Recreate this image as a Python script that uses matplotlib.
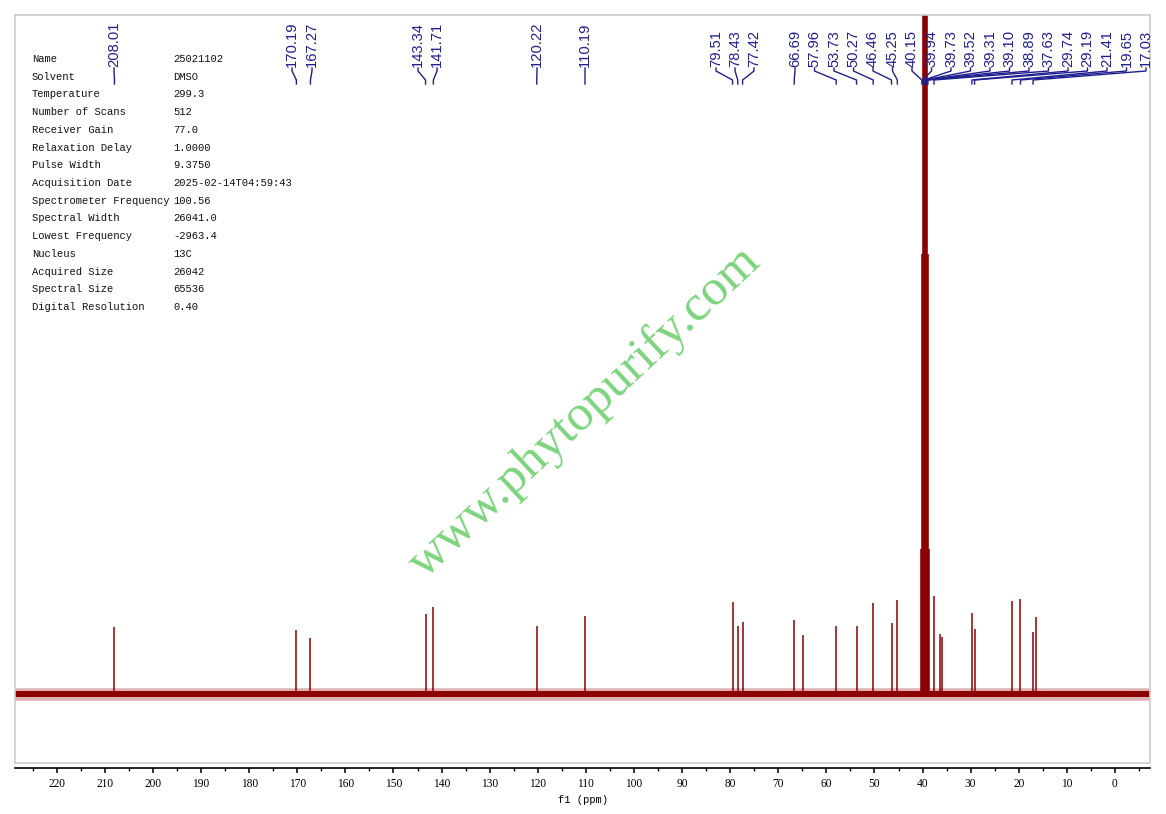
import matplotlib
matplotlib.use("Agg")
import matplotlib.pyplot as plt
import matplotlib.transforms as mtransforms
from matplotlib.ticker import MultipleLocator

W, H = 1166, 814

# 13C peaks: shift (ppm) and height (baseline = 0)
peak_ppm = [208.01, 170.19, 167.27, 143.34, 141.71, 120.22, 110.19,
            79.51, 78.43, 77.42, 66.69, 64.90, 57.96, 53.73, 50.27, 46.46, 45.25,
            37.63, 36.40, 35.90, 29.74, 29.19, 21.41, 19.65, 17.03, 16.47]
peak_height = [67, 64, 56, 80, 87, 68, 78,
               92, 68, 72, 74, 59, 68, 68, 91, 71, 94,
               98, 60, 57, 81, 65, 93, 95, 62, 77]

# DMSO-d6 septet
dmso_ppm = [40.15, 39.94, 39.73, 39.52, 39.31, 39.10, 38.89]
dmso_height = [145, 440, 880, 1030, 880, 440, 145]

# picked shifts shown on top
label_ppm = [208.01, 170.19, 167.27, 143.34, 141.71, 120.22, 110.19,
             79.51, 78.43, 77.42, 66.69, 57.96, 53.73, 50.27, 46.46, 45.25,
             40.15, 39.94, 39.73, 39.52, 39.31, 39.10, 38.89, 37.63,
             29.74, 29.19, 21.41, 19.65, 17.03]

param_names = ["Name", "Solvent", "Temperature", "Number of Scans", "Receiver Gain",
               "Relaxation Delay", "Pulse Width", "Acquisition Date",
               "Spectrometer Frequency", "Spectral Width", "Lowest Frequency",
               "Nucleus", "Acquired Size", "Spectral Size", "Digital Resolution"]
param_values = ["25021102", "DMSO", "299.3", "512", "77.0", "1.0000", "9.3750",
                "2025-02-14T04:59:43", "100.56", "26041.0", "-2963.4", "13C",
                "26042", "65536", "0.40"]

# layout (pixels in the 1166x814 picture)
label_px = [114, 292, 312, 418, 437, 537, 585, 716, 735, 754] + [795 + 19.5 * k for k in range(19)]
ax_left, ax_right, ax_top, ax_bottom = 15, 1150, 15, 763
red = "#8b0000"
navy = "#1f1f8f"

plt.rcParams["font.family"] = "Liberation Serif"

fig = plt.figure(figsize=(W / 100, H / 100), dpi=100)
ax = fig.add_axes([ax_left / W, 1 - ax_bottom / H,
                   (ax_right - ax_left) / W, (ax_bottom - ax_top) / H])
x_left, x_right = 228.69, -7.28
ax.set_xlim(x_left, x_right)
ax.set_ylim(-69, 679)

# frame
for s in ["top", "left", "right"]:
    ax.spines[s].set_color("#cccccc")
    ax.spines[s].set_linewidth(1.2)
ax.spines["bottom"].set_position(("outward", 3.6))
ax.spines["bottom"].set_linewidth(1.2)
ax.plot([0, 1], [0, 0], transform=ax.transAxes, color="#cccccc", lw=1.2, clip_on=False)

ax.xaxis.set_major_locator(MultipleLocator(10))
ax.xaxis.set_minor_locator(MultipleLocator(5))
ax.tick_params(axis="x", which="major", direction="out", length=3.6, width=1.1,
               labelsize=8.3, pad=3.5)
ax.tick_params(axis="x", which="minor", direction="out", length=2, width=1.0)
ax.set_yticks([])
ax.set_xlabel("f1 (ppm)", family="Liberation Mono", fontsize=7.6, labelpad=4)

# spectrum
ax.hlines(0, x_left, x_right, color=red, lw=9, alpha=0.3)
ax.hlines(0, x_left, x_right, color=red, lw=4.3)
ax.vlines(peak_ppm, 0, peak_height, color=red, lw=1.1)
ax.vlines(dmso_ppm, 0, dmso_height, color=red, lw=2.6)

# peak labels with connectors
trans = mtransforms.blended_transform_factory(ax.transData, ax.transAxes)
inv = ax.transData.inverted()


def fy(y):
    return (ax_bottom - y) / (ax_bottom - ax_top)


for v, px in zip(label_ppm, label_px):
    lx = inv.transform((px, 0))[0]
    ax.text(lx, fy(67), f"{v:.2f}", rotation=90, ha="center", va="bottom",
            transform=trans, fontsize=10.6, family="Liberation Sans", color=navy,
            clip_on=True)
    ax.plot([lx, lx, v, v], [fy(68), fy(71), fy(80), fy(84)], transform=trans,
            color=navy, lw=1.0, clip_on=True)

# acquisition parameters
for i, (k, val) in enumerate(zip(param_names, param_values)):
    y = 1 - (59 + 17.71 * i) / H
    fig.text(32 / W, y, k, ha="left", va="center", family="Liberation Mono",
             fontsize=7.6, color="#111111")
    fig.text(173 / W, y, val, ha="left", va="center", family="Liberation Mono",
             fontsize=7.6, color="#111111")

# watermark
fig.text(585 / W, 1 - 412 / H, "www.phytopurify.com", rotation=43,
         ha="center", va="center", rotation_mode="anchor",
         fontsize=37, family="Liberation Serif", color="#7dd47d")

fig.savefig("out.png", dpi=100)
